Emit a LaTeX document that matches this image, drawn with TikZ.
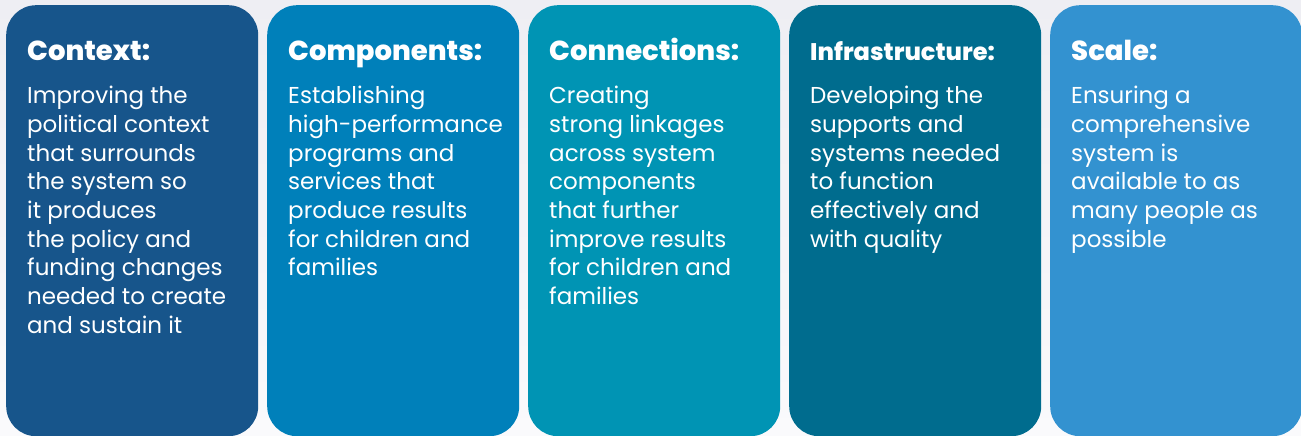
\documentclass[tikz,border=0pt]{standalone}
\usepackage{fontspec}
\setmainfont{Poppins}
\newfontfamily\headfont{Poppins ExtraBold}
\usepackage{xcolor}
\usepackage{tikz}
\usetikzlibrary{calc}
\definecolor{bgtop}{HTML}{EEEEF3}
\definecolor{bgbot}{HTML}{FAFAFC}
\definecolor{ctxblue}{HTML}{17558B}
\definecolor{cmpblue}{HTML}{0080BA}
\definecolor{conteal}{HTML}{0094B4}
\definecolor{infteal}{HTML}{006C8E}
\definecolor{sclblue}{HTML}{3392D0}
\tikzset{
  panel/.style={rounded corners=30pt, minimum width=252pt, minimum height=431pt, inner sep=0pt, anchor=north west},
  head/.style={anchor=base west, text=white, inner sep=0pt, font=\fontsize{27.5}{30}\headfont},
  body/.style={anchor=north west, text=white, inner sep=0pt, align=left, font=\fontsize{23}{28.7}\selectfont},
}

\begin{document}
\begin{tikzpicture}[x=1pt,y=1pt]
  \fill[top color=bgtop, bottom color=bgbot] (0,0) rectangle (1301,-436);
  \useasboundingbox (0,0) rectangle (1301,-436);

  % context
  \node[panel, fill=ctxblue] (ctx) at (6,-5) {};
  \node[head] (ctxhead) at ($(ctx.north west)+(21,-56)$) {Context:};
  \node[body] (ctxbody) at ($(ctx.north west)+(21,-81)$) {Improving the\\political context\\that surrounds\\the system so\\it produces\\the policy and\\funding changes\\needed to create\\and sustain it};

  % components
  \node[panel, fill=cmpblue] (cmp) at (267,-5) {};
  \node[head] (cmphead) at ($(cmp.north west)+(21,-56)$) {Components:};
  \node[body] (cmpbody) at ($(cmp.north west)+(21,-81)$) {Establishing\\high-performance\\programs and\\services that\\produce results\\for children and\\families};

  % connections
  \node[panel, fill=conteal] (con) at (528,-5) {};
  \node[head] (conhead) at ($(con.north west)+(21,-56)$) {Connections:};
  \node[body] (conbody) at ($(con.north west)+(21,-81)$) {Creating\\strong linkages\\across system\\components\\that further\\improve results\\for children and\\families};

  % infrastructure
  \node[panel, fill=infteal] (inf) at (789,-5) {};
  \node[head, font=\fontsize{24}{30}\headfont] (infhead) at ($(inf.north west)+(21,-56)$) {Infrastructure:};
  \node[body] (infbody) at ($(inf.north west)+(21,-81)$) {Developing the\\supports and\\systems needed\\to function\\effectively and\\with quality};

  % scale
  \node[panel, fill=sclblue] (scl) at (1050,-5) {};
  \node[head] (sclhead) at ($(scl.north west)+(21,-56)$) {Scale:};
  \node[body] (sclbody) at ($(scl.north west)+(21,-81)$) {Ensuring a\\comprehensive\\system is\\available to as\\many people as\\possible};
\end{tikzpicture}
\end{document}
